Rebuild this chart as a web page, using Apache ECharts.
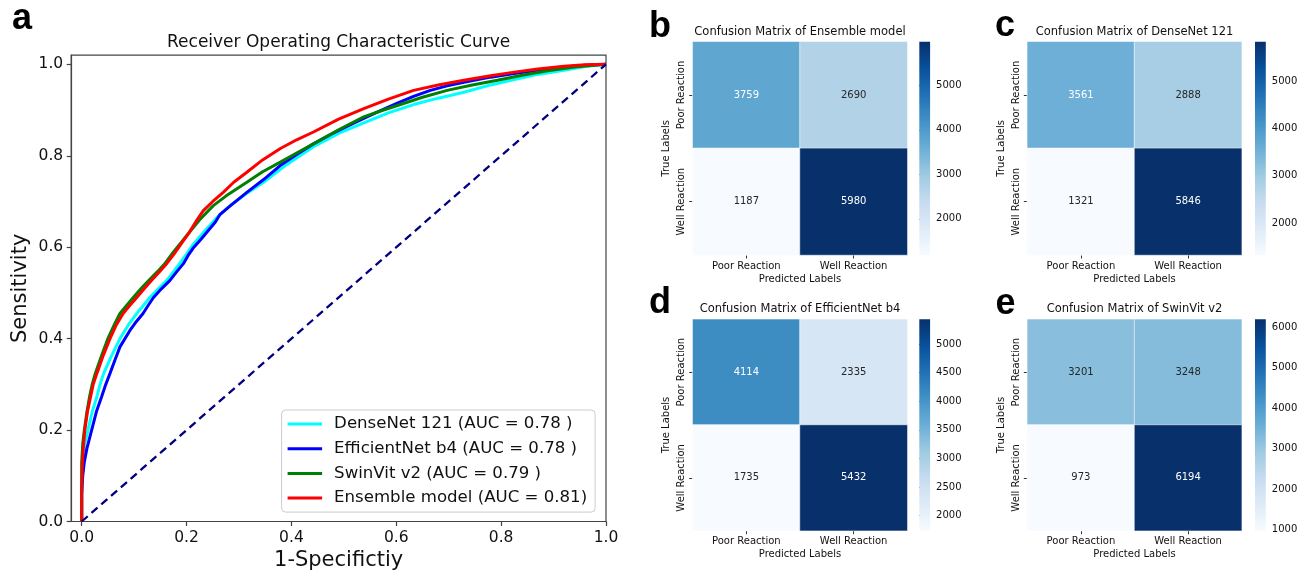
<!DOCTYPE html>
<html><head><meta charset="utf-8">
<script src="https://cdn.jsdelivr.net/npm/echarts@6/dist/echarts.min.js"></script>
<style>html,body{margin:0;padding:0;background:#fff}#c{width:1307px;height:573px}</style>
</head><body><div id="c"></div>
<script>
// ---------------- DATA ----------------
const rocTicks = [0, 0.2, 0.4, 0.6, 0.8, 1.0];
const rocNames = ['DenseNet 121 (AUC = 0.78 )', 'EfficientNet b4 (AUC = 0.78 )', 'SwinVit v2 (AUC = 0.79 )', 'Ensemble model (AUC = 0.81)'];
const densenetRoc = [[0,0],[0,0.08],[0.002,0.13],[0.006,0.17],[0.012,0.2],[0.02,0.24],[0.029,0.273],[0.035,0.3],[0.042,0.324],[0.056,0.36],[0.073,0.4],[0.089,0.43],[0.105,0.455],[0.118,0.473],[0.13,0.49],[0.146,0.509],[0.162,0.527],[0.175,0.546],[0.188,0.566],[0.2,0.585],[0.212,0.605],[0.235,0.636],[0.258,0.665],[0.283,0.691],[0.315,0.718],[0.347,0.742],[0.39,0.78],[0.442,0.82],[0.49,0.849],[0.538,0.872],[0.585,0.894],[0.633,0.912],[0.68,0.926],[0.729,0.939],[0.78,0.955],[0.825,0.967],[0.87,0.978],[0.92,0.987],[0.96,0.995],[1,1]];
const efficientnetRoc = [[0,0],[0,0.06],[0.002,0.1],[0.005,0.13],[0.01,0.16],[0.019,0.2],[0.028,0.24],[0.038,0.273],[0.046,0.3],[0.054,0.324],[0.064,0.355],[0.073,0.382],[0.092,0.418],[0.104,0.437],[0.117,0.455],[0.127,0.473],[0.137,0.49],[0.152,0.509],[0.168,0.527],[0.181,0.546],[0.194,0.564],[0.203,0.582],[0.214,0.6],[0.228,0.618],[0.241,0.636],[0.255,0.655],[0.264,0.672],[0.285,0.692],[0.315,0.72],[0.347,0.748],[0.378,0.778],[0.41,0.803],[0.442,0.826],[0.474,0.846],[0.506,0.864],[0.538,0.882],[0.57,0.899],[0.602,0.915],[0.633,0.93],[0.665,0.943],[0.697,0.953],[0.729,0.961],[0.78,0.972],[0.825,0.98],[0.87,0.987],[0.92,0.994],[0.96,0.998],[1,1]];
const swinvitRoc = [[0,0],[0,0.13],[0.002,0.17],[0.005,0.2],[0.01,0.24],[0.015,0.273],[0.02,0.3],[0.026,0.324],[0.037,0.36],[0.05,0.4],[0.062,0.43],[0.073,0.455],[0.086,0.473],[0.1,0.492],[0.115,0.512],[0.13,0.53],[0.145,0.547],[0.16,0.566],[0.172,0.585],[0.186,0.605],[0.2,0.625],[0.225,0.66],[0.251,0.691],[0.28,0.716],[0.315,0.742],[0.345,0.765],[0.379,0.786],[0.41,0.806],[0.442,0.826],[0.49,0.857],[0.538,0.885],[0.57,0.898],[0.602,0.91],[0.65,0.928],[0.697,0.943],[0.745,0.955],[0.793,0.965],[0.84,0.976],[0.889,0.986],[0.94,0.994],[1,1]];
const ensembleRoc = [[0,0],[0,0.06],[0.001,0.12],[0.003,0.16],[0.006,0.2],[0.011,0.24],[0.017,0.273],[0.022,0.3],[0.029,0.324],[0.04,0.36],[0.054,0.4],[0.066,0.43],[0.079,0.455],[0.092,0.473],[0.105,0.49],[0.12,0.51],[0.133,0.527],[0.148,0.546],[0.162,0.564],[0.176,0.585],[0.19,0.608],[0.205,0.632],[0.22,0.66],[0.232,0.68],[0.25,0.7],[0.27,0.72],[0.29,0.742],[0.315,0.764],[0.345,0.791],[0.379,0.816],[0.41,0.835],[0.442,0.852],[0.49,0.88],[0.538,0.903],[0.585,0.924],[0.633,0.943],[0.68,0.955],[0.729,0.965],[0.78,0.975],[0.825,0.983],[0.87,0.99],[0.92,0.996],[0.96,0.999],[1,1]];
const chanceLine = [[0,0],[1,1]];

const cmClasses = ['Poor Reaction', 'Well Reaction'];
const cmTitles = ['Confusion Matrix of Ensemble model', 'Confusion Matrix of DenseNet 121', 'Confusion Matrix of EfficientNet b4', 'Confusion Matrix of SwinVit v2'];
const cmEnsemble = [[3759, 2690], [1187, 5980]];
const cmDensenet = [[3561, 2888], [1321, 5846]];
const cmEfficientnet = [[4114, 2335], [1735, 5432]];
const cmSwinvit = [[3201, 3248], [973, 6194]];
const cbTicksEnsemble = [2000, 3000, 4000, 5000];
const cbTicksDensenet = [2000, 3000, 4000, 5000];
const cbTicksEfficientnet = [2000, 2500, 3000, 3500, 4000, 4500, 5000];
const cbTicksSwinvit = [1000, 2000, 3000, 4000, 5000, 6000];
const panelLetters = ['a', 'b', 'c', 'd', 'e'];

// ---------------- STYLE / LAYOUT ----------------
const FONT = '"DejaVu Sans", sans-serif';
const blues = ['#f7fbff','#deebf7','#c6dbef','#9ecae1','#6baed6','#4292c6','#2171b5','#08519c','#08306b'];
const rocColors = ['#00ffff', '#0000ff', '#008000', '#ff0000'];

const panels = [
  {m: cmEnsemble, ticks: cbTicksEnsemble, title: cmTitles[0], x: 692.7, y: 41.7, w: 214.6, h: 213.3, cbx: 919.3, ty: 32.5},
  {m: cmDensenet, ticks: cbTicksDensenet, title: cmTitles[1], x: 1027.3, y: 41.7, w: 214.4, h: 213.3, cbx: 1255, ty: 32.3},
  {m: cmEfficientnet, ticks: cbTicksEfficientnet, title: cmTitles[2], x: 692.7, y: 319.3, w: 214.6, h: 211.4, cbx: 919.3, ty: 309},
  {m: cmSwinvit, ticks: cbTicksSwinvit, title: cmTitles[3], x: 1027.3, y: 319.3, w: 214.4, h: 211.4, cbx: 1255, ty: 309}
];
const letterPos = [[22, 19], [660, 27.5], [1005, 26], [660, 303.5], [1005.5, 304]];

function textColorFor(t) {
  const c = echarts.color.parse(echarts.color.lerp(t, blues));
  const lin = v => { v /= 255; return v <= 0.03928 ? v / 12.92 : Math.pow((v + 0.055) / 1.055, 2.4); };
  const lum = 0.2126 * lin(c[0]) + 0.7152 * lin(c[1]) + 0.0722 * lin(c[2]);
  return lum > 0.408 ? '#262626' : '#ffffff';
}

const grids = [{left: 71.2, top: 55.2, width: 534.8, height: 466.3, show: true, borderColor: '#444', borderWidth: 1.2, outerBoundsMode: 'none'}];
const xAxes = [{
  gridIndex: 0, type: 'value', min: -0.02, max: 1.0,
  axisLine: {show: true, onZero: false, lineStyle: {color: '#444', width: 1.2}},
  axisTick: {show: true, customValues: rocTicks, length: 4.5, lineStyle: {color: '#444', width: 1.2}},
  axisLabel: {customValues: rocTicks, formatter: v => v.toFixed(1), fontSize: 15.5, color: '#111', margin: 8, fontFamily: FONT},
  splitLine: {show: false},
  name: '1-Specifictiy', nameLocation: 'middle', nameGap: 28, nameTextStyle: {fontSize: 21, color: '#111', fontFamily: FONT}
}];
const yAxes = [{
  gridIndex: 0, type: 'value', min: 0, max: 1.02,
  axisLine: {show: true, onZero: false, lineStyle: {color: '#444', width: 1.2}},
  axisTick: {show: true, customValues: rocTicks, length: 4.5, lineStyle: {color: '#444', width: 1.2}},
  axisLabel: {customValues: rocTicks, formatter: v => v.toFixed(1), fontSize: 15.5, color: '#111', margin: 8, fontFamily: FONT},
  splitLine: {show: false},
  name: 'Sensitivity', nameLocation: 'middle', nameGap: 40, nameTextStyle: {fontSize: 21, color: '#111', fontFamily: FONT}
}];

const rocData = [densenetRoc, efficientnetRoc, swinvitRoc, ensembleRoc];
const series = rocData.map((d, i) => ({
  type: 'line', name: rocNames[i], data: d, xAxisIndex: 0, yAxisIndex: 0,
  showSymbol: false, symbol: 'none', lineStyle: {color: rocColors[i], width: 3},
  itemStyle: {color: rocColors[i]}, z: 2 + i, silent: true
}));
series.push({
  type: 'line', name: 'chance', data: chanceLine, xAxisIndex: 0, yAxisIndex: 0,
  showSymbol: false, symbol: 'none', lineStyle: {color: '#000080', width: 2.3, type: [8, 5]}, z: 10, silent: true
});

const visualMaps = [];
const graphics = [];

graphics.push({type: 'text', x: 71.2 + 534.8 / 2, y: 42.5, style: {text: 'Receiver Operating Characteristic Curve', font: '17px ' + FONT, fill: '#111', align: 'center', verticalAlign: 'middle'}});
panelLetters.forEach((L, i) => {
  graphics.push({type: 'text', x: letterPos[i][0], y: letterPos[i][1], style: {text: L, font: 'bold 36px "Liberation Sans", Arial, sans-serif', fill: '#000', align: 'center', verticalAlign: 'middle'}});
});

panels.forEach((p, i) => {
  const flat = p.m.flat();
  const vmin = Math.min(...flat), vmax = Math.max(...flat);
  const hg = grids.length;
  grids.push({left: p.x, top: p.y, width: p.w, height: p.h, outerBoundsMode: 'none'});
  xAxes.push({
    gridIndex: hg, type: 'category', data: cmClasses,
    axisLine: {show: false}, axisTick: {show: true, alignWithLabel: true, length: 3.5, lineStyle: {color: '#333'}},
    axisLabel: {fontSize: 10, color: '#111', margin: 6, fontFamily: FONT},
    splitLine: {show: false}, splitArea: {show: false},
    name: 'Predicted Labels', nameLocation: 'middle', nameGap: 19, nameTextStyle: {fontSize: 10, color: '#111', fontFamily: FONT}
  });
  yAxes.push({
    gridIndex: hg, type: 'category', data: cmClasses, inverse: true,
    axisLine: {show: false}, axisTick: {show: true, alignWithLabel: true, length: 3.5, lineStyle: {color: '#333'}},
    axisLabel: {fontSize: 10, color: '#111', margin: 6, rotate: 90, fontFamily: FONT},
    splitLine: {show: false}, splitArea: {show: false},
    name: 'True Labels', nameLocation: 'middle', nameGap: 21, nameTextStyle: {fontSize: 10, color: '#111', fontFamily: FONT}
  });
  const data = [];
  p.m.forEach((row, r) => row.forEach((v, c) => {
    data.push({value: [c, r, v], label: {color: textColorFor((v - vmin) / (vmax - vmin))}});
  }));
  const si = series.length;
  series.push({
    type: 'heatmap', xAxisIndex: hg, yAxisIndex: hg, data,
    label: {show: true, fontSize: 10, fontFamily: FONT, formatter: q => String(q.value[2])},
    itemStyle: {borderColor: 'rgba(255,255,255,0.55)', borderWidth: 1},
    emphasis: {disabled: true}, silent: true
  });
  visualMaps.push({type: 'continuous', show: false, seriesIndex: si, dimension: 2, min: vmin, max: vmax, inRange: {color: blues}});

  const cg = grids.length;
  grids.push({left: p.cbx, top: p.y, width: 10.8, height: p.h, outerBoundsMode: 'none'});
  xAxes.push({gridIndex: cg, type: 'value', min: 0, max: 1, show: false});
  yAxes.push({
    gridIndex: cg, type: 'value', min: vmin, max: vmax, position: 'right',
    axisLine: {show: false},
    axisTick: {show: true, customValues: p.ticks, length: 3.5, lineStyle: {color: '#333'}},
    axisLabel: {customValues: p.ticks, formatter: v => String(v), fontSize: 10, color: '#111', margin: 6, fontFamily: FONT},
    splitLine: {show: false}
  });
  series.push({
    type: 'custom', xAxisIndex: cg, yAxisIndex: cg, silent: true,
    data: [[0, vmin, 1, vmax]], encode: {x: [0, 2], y: [1, 3]},
    renderItem: (params, api) => {
      const p0 = api.coord([api.value(0), api.value(3)]);
      const p1 = api.coord([api.value(2), api.value(1)]);
      const stops = blues.slice().reverse().map((c, k) => ({offset: k / (blues.length - 1), color: c}));
      return {type: 'rect', shape: {x: p0[0], y: p0[1], width: p1[0] - p0[0], height: p1[1] - p0[1]},
        style: {fill: new echarts.graphic.LinearGradient(0, 0, 0, 1, stops)}};
    }
  });
  graphics.push({type: 'text', x: p.x + p.w / 2, y: p.ty, style: {text: p.title, font: '11.5px ' + FONT, fill: '#111', align: 'center', verticalAlign: 'middle'}});
});

const chart = echarts.init(document.getElementById('c'), null, {renderer: 'canvas'});
chart.setOption({
  animation: false,
  backgroundColor: '#fff',
  textStyle: {fontFamily: FONT},
  grid: grids, xAxis: xAxes, yAxis: yAxes, series, visualMap: visualMaps,
  legend: {
    show: true, data: rocNames, orient: 'vertical', left: 281.6, top: 410,
    padding: [4, 8, 4, 6], itemGap: 4.7, itemWidth: 34.5, itemHeight: 3, icon: 'rect',
    backgroundColor: '#fff', borderColor: '#cccccc', borderWidth: 1, borderRadius: 4,
    textStyle: {fontSize: 16.6, lineHeight: 20, color: '#111', fontFamily: FONT, padding: [0, 0, 0, 7]},
    selectedMode: false
  },
  graphic: graphics
});
</script></body></html>
